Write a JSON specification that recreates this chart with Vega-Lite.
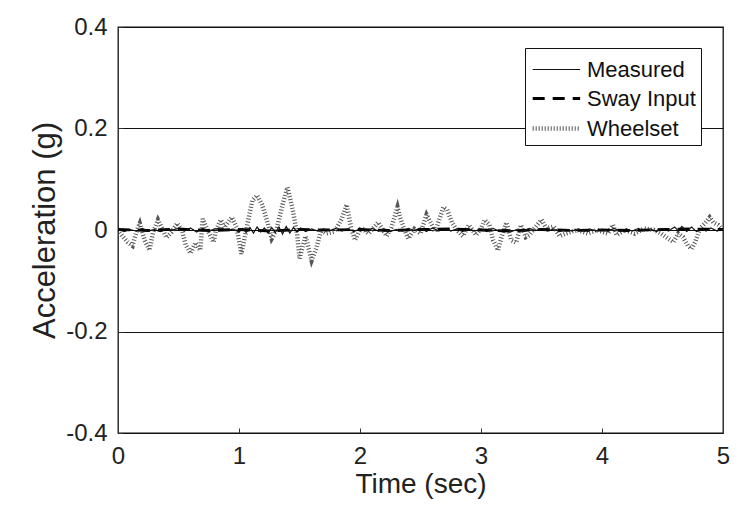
{
  "$schema": "https://vega.github.io/schema/vega-lite/v6.json",
  "width": 605,
  "height": 406,
  "autosize": {"type": "none"},
  "padding": {"left": 118, "top": 27, "right": 30, "bottom": 78},
  "background": "white",
  "config": {
    "view": {"stroke": "#111", "strokeWidth": 1.3},
    "font": "Liberation Sans",
    "axis": {
      "labelFont": "Liberation Sans",
      "titleFont": "Liberation Sans",
      "labelFontSize": 24,
      "titleFontWeight": "normal",
      "labelColor": "#222",
      "titleColor": "#222",
      "domain": false,
      "tickColor": "#333",
      "tickSize": -5,
      "labelFlush": false
    },
    "legend": {
      "labelFont": "Liberation Sans",
      "labelFontSize": 22,
      "labelColor": "#111"
    }
  },
  "data": {
    "values": [
      {"series": "Wheelset", "t": 0.00, "v": 0.000},
      {"series": "Wheelset", "t": 0.03, "v": -0.010},
      {"series": "Wheelset", "t": 0.08, "v": -0.024},
      {"series": "Wheelset", "t": 0.12, "v": -0.031},
      {"series": "Wheelset", "t": 0.15, "v": -0.005},
      {"series": "Wheelset", "t": 0.18, "v": 0.013},
      {"series": "Wheelset", "t": 0.22, "v": -0.020},
      {"series": "Wheelset", "t": 0.26, "v": -0.040},
      {"series": "Wheelset", "t": 0.29, "v": -0.005},
      {"series": "Wheelset", "t": 0.33, "v": 0.020},
      {"series": "Wheelset", "t": 0.36, "v": 0.005},
      {"series": "Wheelset", "t": 0.40, "v": -0.015},
      {"series": "Wheelset", "t": 0.44, "v": -0.005},
      {"series": "Wheelset", "t": 0.49, "v": 0.013},
      {"series": "Wheelset", "t": 0.53, "v": -0.002},
      {"series": "Wheelset", "t": 0.56, "v": -0.030},
      {"series": "Wheelset", "t": 0.60, "v": -0.046},
      {"series": "Wheelset", "t": 0.64, "v": -0.025},
      {"series": "Wheelset", "t": 0.68, "v": -0.040},
      {"series": "Wheelset", "t": 0.70, "v": 0.022},
      {"series": "Wheelset", "t": 0.73, "v": 0.005},
      {"series": "Wheelset", "t": 0.76, "v": -0.010},
      {"series": "Wheelset", "t": 0.79, "v": -0.024},
      {"series": "Wheelset", "t": 0.81, "v": 0.000},
      {"series": "Wheelset", "t": 0.85, "v": 0.020},
      {"series": "Wheelset", "t": 0.88, "v": 0.005},
      {"series": "Wheelset", "t": 0.94, "v": 0.025},
      {"series": "Wheelset", "t": 0.98, "v": 0.005},
      {"series": "Wheelset", "t": 1.02, "v": -0.047},
      {"series": "Wheelset", "t": 1.06, "v": 0.000},
      {"series": "Wheelset", "t": 1.11, "v": 0.058},
      {"series": "Wheelset", "t": 1.15, "v": 0.068},
      {"series": "Wheelset", "t": 1.19, "v": 0.050},
      {"series": "Wheelset", "t": 1.23, "v": 0.020},
      {"series": "Wheelset", "t": 1.27, "v": -0.017},
      {"series": "Wheelset", "t": 1.31, "v": 0.000},
      {"series": "Wheelset", "t": 1.36, "v": 0.050},
      {"series": "Wheelset", "t": 1.40, "v": 0.084},
      {"series": "Wheelset", "t": 1.44, "v": 0.045},
      {"series": "Wheelset", "t": 1.48, "v": -0.007},
      {"series": "Wheelset", "t": 1.50, "v": -0.056},
      {"series": "Wheelset", "t": 1.55, "v": -0.012},
      {"series": "Wheelset", "t": 1.60, "v": -0.060},
      {"series": "Wheelset", "t": 1.64, "v": -0.035},
      {"series": "Wheelset", "t": 1.68, "v": 0.000},
      {"series": "Wheelset", "t": 1.72, "v": -0.007},
      {"series": "Wheelset", "t": 1.79, "v": -0.003},
      {"series": "Wheelset", "t": 1.85, "v": 0.022},
      {"series": "Wheelset", "t": 1.89, "v": 0.050},
      {"series": "Wheelset", "t": 1.93, "v": 0.000},
      {"series": "Wheelset", "t": 1.96, "v": -0.020},
      {"series": "Wheelset", "t": 2.01, "v": 0.005},
      {"series": "Wheelset", "t": 2.07, "v": -0.007},
      {"series": "Wheelset", "t": 2.15, "v": 0.015},
      {"series": "Wheelset", "t": 2.19, "v": 0.000},
      {"series": "Wheelset", "t": 2.22, "v": -0.012},
      {"series": "Wheelset", "t": 2.26, "v": 0.005},
      {"series": "Wheelset", "t": 2.31, "v": 0.045},
      {"series": "Wheelset", "t": 2.33, "v": 0.025},
      {"series": "Wheelset", "t": 2.38, "v": -0.007},
      {"series": "Wheelset", "t": 2.40, "v": -0.017},
      {"series": "Wheelset", "t": 2.45, "v": 0.002},
      {"series": "Wheelset", "t": 2.50, "v": -0.007},
      {"series": "Wheelset", "t": 2.55, "v": 0.030},
      {"series": "Wheelset", "t": 2.60, "v": 0.007},
      {"series": "Wheelset", "t": 2.62, "v": -0.004},
      {"series": "Wheelset", "t": 2.69, "v": 0.045},
      {"series": "Wheelset", "t": 2.72, "v": 0.040},
      {"series": "Wheelset", "t": 2.76, "v": 0.015},
      {"series": "Wheelset", "t": 2.80, "v": 0.000},
      {"series": "Wheelset", "t": 2.85, "v": -0.012},
      {"series": "Wheelset", "t": 2.90, "v": 0.010},
      {"series": "Wheelset", "t": 2.96, "v": -0.010},
      {"series": "Wheelset", "t": 3.00, "v": 0.003},
      {"series": "Wheelset", "t": 3.03, "v": 0.020},
      {"series": "Wheelset", "t": 3.07, "v": 0.010},
      {"series": "Wheelset", "t": 3.10, "v": -0.020},
      {"series": "Wheelset", "t": 3.14, "v": -0.040},
      {"series": "Wheelset", "t": 3.17, "v": -0.014},
      {"series": "Wheelset", "t": 3.21, "v": 0.015},
      {"series": "Wheelset", "t": 3.25, "v": -0.020},
      {"series": "Wheelset", "t": 3.29, "v": -0.025},
      {"series": "Wheelset", "t": 3.33, "v": 0.010},
      {"series": "Wheelset", "t": 3.37, "v": -0.014},
      {"series": "Wheelset", "t": 3.40, "v": -0.010},
      {"series": "Wheelset", "t": 3.44, "v": 0.003},
      {"series": "Wheelset", "t": 3.50, "v": 0.020},
      {"series": "Wheelset", "t": 3.54, "v": 0.003},
      {"series": "Wheelset", "t": 3.60, "v": 0.007},
      {"series": "Wheelset", "t": 3.65, "v": -0.012},
      {"series": "Wheelset", "t": 3.70, "v": -0.007},
      {"series": "Wheelset", "t": 3.75, "v": -0.003},
      {"series": "Wheelset", "t": 3.80, "v": 0.000},
      {"series": "Wheelset", "t": 3.88, "v": -0.007},
      {"series": "Wheelset", "t": 3.96, "v": 0.000},
      {"series": "Wheelset", "t": 4.05, "v": -0.007},
      {"series": "Wheelset", "t": 4.09, "v": 0.010},
      {"series": "Wheelset", "t": 4.12, "v": -0.010},
      {"series": "Wheelset", "t": 4.19, "v": 0.000},
      {"series": "Wheelset", "t": 4.27, "v": -0.007},
      {"series": "Wheelset", "t": 4.35, "v": 0.003},
      {"series": "Wheelset", "t": 4.43, "v": 0.000},
      {"series": "Wheelset", "t": 4.49, "v": -0.007},
      {"series": "Wheelset", "t": 4.53, "v": -0.014},
      {"series": "Wheelset", "t": 4.59, "v": -0.024},
      {"series": "Wheelset", "t": 4.63, "v": -0.007},
      {"series": "Wheelset", "t": 4.67, "v": -0.014},
      {"series": "Wheelset", "t": 4.71, "v": -0.031},
      {"series": "Wheelset", "t": 4.74, "v": -0.037},
      {"series": "Wheelset", "t": 4.77, "v": -0.024},
      {"series": "Wheelset", "t": 4.81, "v": 0.003},
      {"series": "Wheelset", "t": 4.85, "v": 0.013},
      {"series": "Wheelset", "t": 4.89, "v": 0.025},
      {"series": "Wheelset", "t": 4.92, "v": 0.015},
      {"series": "Wheelset", "t": 4.96, "v": 0.010},
      {"series": "Wheelset", "t": 5.00, "v": 0.000},
      {"series": "Sway Input", "t": 0.00, "v": 0.001},
      {"series": "Sway Input", "t": 0.25, "v": -0.001},
      {"series": "Sway Input", "t": 0.50, "v": 0.002},
      {"series": "Sway Input", "t": 0.75, "v": -0.001},
      {"series": "Sway Input", "t": 1.00, "v": 0.001},
      {"series": "Sway Input", "t": 1.25, "v": -0.002},
      {"series": "Sway Input", "t": 1.50, "v": 0.001},
      {"series": "Sway Input", "t": 1.75, "v": 0.000},
      {"series": "Sway Input", "t": 2.00, "v": 0.001},
      {"series": "Sway Input", "t": 2.25, "v": -0.001},
      {"series": "Sway Input", "t": 2.50, "v": 0.001},
      {"series": "Sway Input", "t": 2.75, "v": 0.002},
      {"series": "Sway Input", "t": 3.00, "v": 0.000},
      {"series": "Sway Input", "t": 3.25, "v": -0.002},
      {"series": "Sway Input", "t": 3.50, "v": 0.001},
      {"series": "Sway Input", "t": 3.75, "v": -0.001},
      {"series": "Sway Input", "t": 4.00, "v": 0.000},
      {"series": "Sway Input", "t": 4.25, "v": -0.001},
      {"series": "Sway Input", "t": 4.50, "v": 0.001},
      {"series": "Sway Input", "t": 4.75, "v": 0.002},
      {"series": "Sway Input", "t": 5.00, "v": 0.001},
      {"series": "Measured", "t": 0.00, "v": 0.002},
      {"series": "Measured", "t": 0.05, "v": -0.003},
      {"series": "Measured", "t": 0.10, "v": 0.001},
      {"series": "Measured", "t": 0.15, "v": -0.002},
      {"series": "Measured", "t": 0.20, "v": 0.003},
      {"series": "Measured", "t": 0.25, "v": -0.002},
      {"series": "Measured", "t": 0.30, "v": 0.001},
      {"series": "Measured", "t": 0.35, "v": -0.003},
      {"series": "Measured", "t": 0.40, "v": 0.002},
      {"series": "Measured", "t": 0.45, "v": 0.000},
      {"series": "Measured", "t": 0.50, "v": 0.003},
      {"series": "Measured", "t": 0.55, "v": -0.002},
      {"series": "Measured", "t": 0.60, "v": 0.004},
      {"series": "Measured", "t": 0.65, "v": -0.004},
      {"series": "Measured", "t": 0.70, "v": 0.003},
      {"series": "Measured", "t": 0.75, "v": -0.002},
      {"series": "Measured", "t": 0.80, "v": 0.002},
      {"series": "Measured", "t": 0.85, "v": 0.004},
      {"series": "Measured", "t": 0.90, "v": -0.001},
      {"series": "Measured", "t": 0.95, "v": 0.002},
      {"series": "Measured", "t": 1.00, "v": -0.004},
      {"series": "Measured", "t": 1.03, "v": 0.003},
      {"series": "Measured", "t": 1.06, "v": -0.005},
      {"series": "Measured", "t": 1.09, "v": 0.005},
      {"series": "Measured", "t": 1.12, "v": -0.006},
      {"series": "Measured", "t": 1.15, "v": 0.006},
      {"series": "Measured", "t": 1.18, "v": -0.004},
      {"series": "Measured", "t": 1.21, "v": 0.004},
      {"series": "Measured", "t": 1.24, "v": -0.006},
      {"series": "Measured", "t": 1.27, "v": 0.005},
      {"series": "Measured", "t": 1.30, "v": -0.005},
      {"series": "Measured", "t": 1.33, "v": 0.006},
      {"series": "Measured", "t": 1.36, "v": -0.008},
      {"series": "Measured", "t": 1.39, "v": 0.007},
      {"series": "Measured", "t": 1.42, "v": -0.006},
      {"series": "Measured", "t": 1.45, "v": 0.005},
      {"series": "Measured", "t": 1.48, "v": -0.004},
      {"series": "Measured", "t": 1.51, "v": 0.004},
      {"series": "Measured", "t": 1.55, "v": -0.003},
      {"series": "Measured", "t": 1.60, "v": 0.002},
      {"series": "Measured", "t": 1.65, "v": -0.002},
      {"series": "Measured", "t": 1.70, "v": 0.002},
      {"series": "Measured", "t": 1.75, "v": -0.001},
      {"series": "Measured", "t": 1.80, "v": 0.003},
      {"series": "Measured", "t": 1.85, "v": -0.002},
      {"series": "Measured", "t": 1.90, "v": 0.002},
      {"series": "Measured", "t": 1.95, "v": -0.003},
      {"series": "Measured", "t": 2.00, "v": 0.002},
      {"series": "Measured", "t": 2.05, "v": -0.002},
      {"series": "Measured", "t": 2.10, "v": 0.003},
      {"series": "Measured", "t": 2.15, "v": -0.002},
      {"series": "Measured", "t": 2.20, "v": 0.002},
      {"series": "Measured", "t": 2.25, "v": -0.003},
      {"series": "Measured", "t": 2.30, "v": 0.001},
      {"series": "Measured", "t": 2.35, "v": -0.002},
      {"series": "Measured", "t": 2.40, "v": 0.003},
      {"series": "Measured", "t": 2.45, "v": -0.001},
      {"series": "Measured", "t": 2.50, "v": 0.004},
      {"series": "Measured", "t": 2.55, "v": -0.003},
      {"series": "Measured", "t": 2.60, "v": 0.004},
      {"series": "Measured", "t": 2.65, "v": -0.002},
      {"series": "Measured", "t": 2.70, "v": 0.003},
      {"series": "Measured", "t": 2.75, "v": -0.002},
      {"series": "Measured", "t": 2.80, "v": 0.002},
      {"series": "Measured", "t": 2.85, "v": -0.003},
      {"series": "Measured", "t": 2.90, "v": 0.002},
      {"series": "Measured", "t": 2.95, "v": -0.002},
      {"series": "Measured", "t": 3.00, "v": 0.002},
      {"series": "Measured", "t": 3.05, "v": -0.003},
      {"series": "Measured", "t": 3.10, "v": 0.003},
      {"series": "Measured", "t": 3.15, "v": -0.002},
      {"series": "Measured", "t": 3.20, "v": 0.002},
      {"series": "Measured", "t": 3.25, "v": -0.003},
      {"series": "Measured", "t": 3.30, "v": 0.001},
      {"series": "Measured", "t": 3.35, "v": -0.002},
      {"series": "Measured", "t": 3.40, "v": 0.003},
      {"series": "Measured", "t": 3.45, "v": -0.001},
      {"series": "Measured", "t": 3.50, "v": 0.002},
      {"series": "Measured", "t": 3.55, "v": -0.002},
      {"series": "Measured", "t": 3.60, "v": 0.002},
      {"series": "Measured", "t": 3.65, "v": -0.003},
      {"series": "Measured", "t": 3.70, "v": 0.001},
      {"series": "Measured", "t": 3.75, "v": -0.002},
      {"series": "Measured", "t": 3.80, "v": 0.002},
      {"series": "Measured", "t": 3.85, "v": -0.001},
      {"series": "Measured", "t": 3.90, "v": 0.002},
      {"series": "Measured", "t": 3.95, "v": -0.002},
      {"series": "Measured", "t": 4.00, "v": 0.001},
      {"series": "Measured", "t": 4.05, "v": -0.002},
      {"series": "Measured", "t": 4.10, "v": 0.003},
      {"series": "Measured", "t": 4.15, "v": -0.002},
      {"series": "Measured", "t": 4.20, "v": 0.002},
      {"series": "Measured", "t": 4.25, "v": -0.002},
      {"series": "Measured", "t": 4.30, "v": 0.003},
      {"series": "Measured", "t": 4.35, "v": -0.001},
      {"series": "Measured", "t": 4.40, "v": 0.002},
      {"series": "Measured", "t": 4.45, "v": -0.003},
      {"series": "Measured", "t": 4.50, "v": 0.003},
      {"series": "Measured", "t": 4.55, "v": -0.002},
      {"series": "Measured", "t": 4.60, "v": 0.006},
      {"series": "Measured", "t": 4.63, "v": -0.002},
      {"series": "Measured", "t": 4.66, "v": 0.007},
      {"series": "Measured", "t": 4.70, "v": -0.003},
      {"series": "Measured", "t": 4.74, "v": 0.006},
      {"series": "Measured", "t": 4.78, "v": -0.003},
      {"series": "Measured", "t": 4.82, "v": 0.003},
      {"series": "Measured", "t": 4.86, "v": -0.002},
      {"series": "Measured", "t": 4.90, "v": 0.004},
      {"series": "Measured", "t": 4.95, "v": -0.002},
      {"series": "Measured", "t": 5.00, "v": 0.002}
    ]
  },
  "encoding": {
    "x": {
      "field": "t",
      "type": "quantitative",
      "scale": {"domain": [0, 5], "nice": false, "zero": false},
      "axis": {
        "title": "Time (sec)",
        "values": [0, 1, 2, 3, 4, 5],
        "grid": false,
        "labelPadding": 16,
        "titleFontSize": 28,
        "titlePadding": 2
      }
    },
    "y": {
      "field": "v",
      "type": "quantitative",
      "scale": {"domain": [-0.4, 0.4], "nice": false},
      "axis": {
        "title": "Acceleration (g)",
        "values": [-0.4, -0.2, 0, 0.2, 0.4],
        "labelExpr": "datum.value == 0 ? '0' : toString(round(datum.value * 10) / 10)",
        "grid": true,
        "gridColor": "#111",
        "gridWidth": 1,
        "gridOpacity": 1,
        "labelPadding": 16,
        "titleFontSize": 31,
        "titlePadding": 4
      }
    },
    "color": {
      "field": "series",
      "type": "nominal",
      "scale": {"domain": ["Measured", "Sway Input", "Wheelset"], "range": ["#111111", "#000000", "#555555"]},
      "legend": {
        "title": null,
        "orient": "none",
        "legendX": 407,
        "legendY": 21,
        "fillColor": "white",
        "strokeColor": "#111",
        "padding": 5,
        "symbolType": "M-1,0H2",
        "symbolSize": 1000,
        "symbolStrokeWidth": 2,
        "rowPadding": 0,
        "labelOffset": 20
      }
    },
    "strokeDash": {
      "field": "series",
      "type": "nominal",
      "scale": {"domain": ["Measured", "Sway Input", "Wheelset"], "range": [[1, 0], [12, 8], [1, 2]]},
      "legend": null
    },
    "strokeWidth": {
      "field": "series",
      "type": "nominal",
      "scale": {"domain": ["Measured", "Sway Input", "Wheelset"], "range": [1.2, 4.5, 1]},
      "legend": null
    }
  },
  "layer": [
    {"transform": [{"filter": "datum.series == 'Wheelset'"}], "mark": {"type": "line", "clip": true}},
    {"transform": [{"filter": "datum.series == 'Sway Input'"}], "mark": {"type": "line", "clip": true}},
    {"transform": [{"filter": "datum.series == 'Measured'"}], "mark": {"type": "line", "clip": true}}
  ]
}
